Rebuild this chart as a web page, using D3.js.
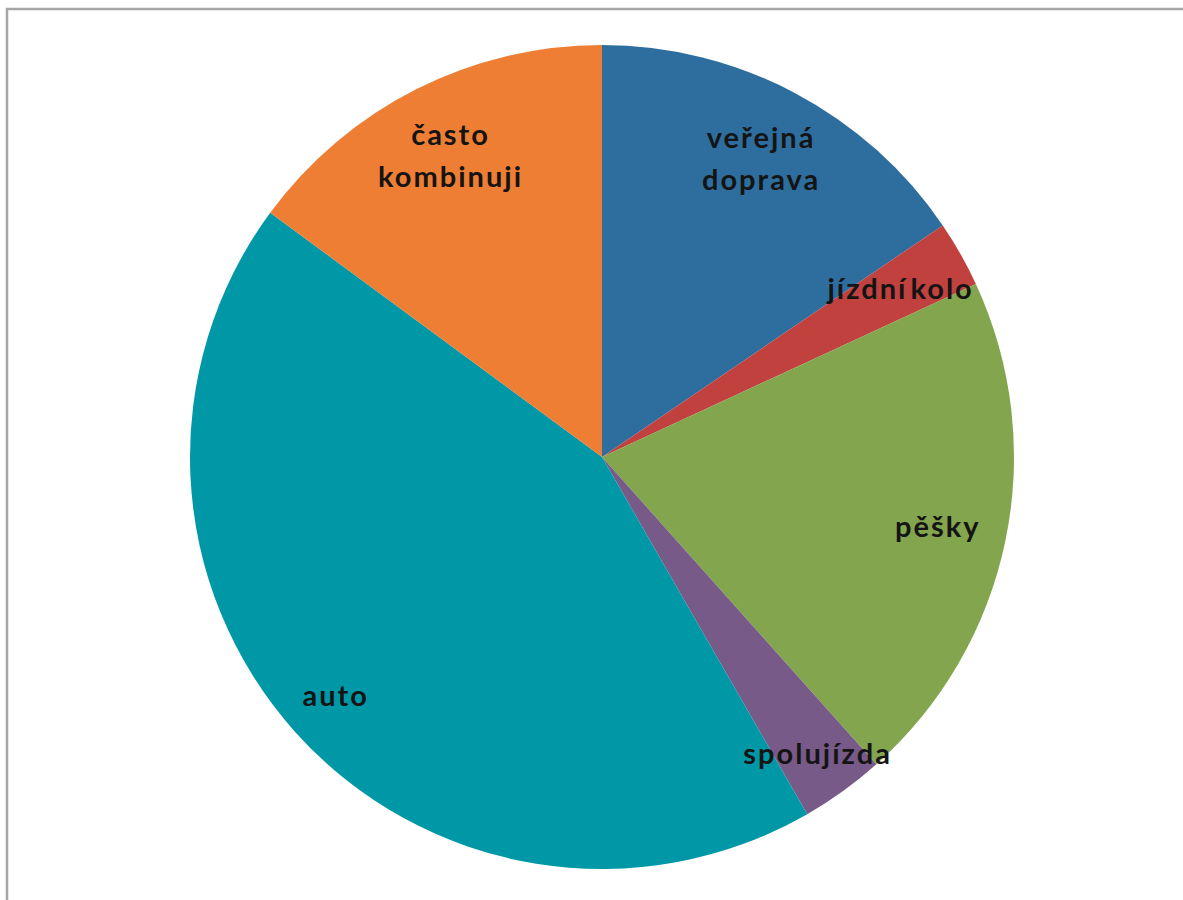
<!DOCTYPE html>
<html>
<head>
<meta charset="utf-8">
<script src="https://cdn.jsdelivr.net/npm/d3@7"></script>
<style>
  body { margin: 0; background: #fff; }
  svg { display: block; }
</style>
</head>
<body>
<script>
// slices clockwise from 12 o'clock (percent)
let categories = ['veřejná doprava', 'jízdní kolo', 'pěšky', 'spolujízda', 'auto', 'často kombinuji']
let values = [15.5, 2.6, 20.3, 3.3, 43.4, 14.9]
let colors = ['#2E6E9E', '#C0413E', '#82A54E', '#775A88', '#0097A7', '#EE7E33']
let labelLines = [['veřejná', 'doprava'], ['jízdní kolo'], ['pěšky'], ['spolujízda'], ['auto'], ['často', 'kombinuji']]

const width = 1183
const height = 900
const cx = 602
const cy = 457
const radius = 412

let svg = d3
  .select('body')
  .append('svg')
  .attr('width', width)
  .attr('height', height)

// frame of the chart area
svg
  .append('rect')
  .attr('x', 7)
  .attr('y', 9)
  .attr('width', width + 20)
  .attr('height', height + 20)
  .attr('fill', 'none')
  .attr('stroke', '#a6a6a6')
  .attr('stroke-width', 2.5)

let pie = d3
  .pie()
  .sort(null)
  .value((d) => d)

let arcs = pie(values)

let arc = d3
  .arc()
  .innerRadius(0)
  .outerRadius(radius)

let g = svg
  .append('g')
  .attr('transform', `translate(${cx},${cy})`)

g.selectAll('path')
  .data(arcs)
  .join('path')
  .attr('d', arc)
  .attr('fill', (d, i) => colors[i])

// label distance as fraction of radius
let labelFrac = [0.82, 0.83, 0.83, 0.89, 0.87, 0.82]

let labels = g
  .selectAll('text')
  .data(arcs)
  .join('text')
  .attr('transform', (d, i) => {
    let r = radius * labelFrac[i]
    let a = (d.startAngle + d.endAngle) / 2
    return `translate(${Math.sin(a) * r + 1},${-Math.cos(a) * r})`
  })
  .attr('text-anchor', 'middle')
  .style('font-family', 'Lato, "Open Sans", sans-serif')
  .style('font-weight', 'bold')
  .style('font-size', '29px')
  .style('letter-spacing', '2px')
  .style('word-spacing', '-6px')
  .attr('fill', '#141414')

labels.each(function (d, i) {
  let lines = labelLines[i]
  let lh = 42
  let y0 = -((lines.length - 1) * lh) / 2
  d3.select(this)
    .selectAll('tspan')
    .data(lines)
    .join('tspan')
    .attr('x', 0)
    .attr('y', (t, k) => y0 + k * lh)
    .attr('dy', '0.35em')
    .text((t) => t)
})
</script>
</body>
</html>
